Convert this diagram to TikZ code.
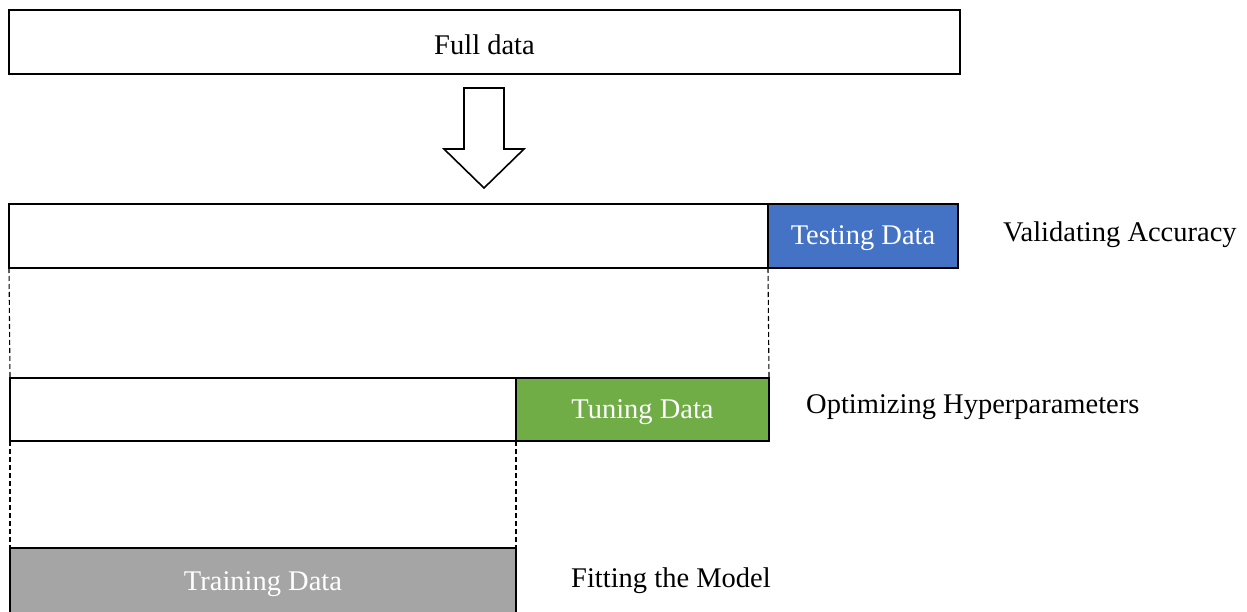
\documentclass[tikz,border=0pt]{standalone}
\usepackage{fontspec}
\setmainfont{Liberation Serif}
\definecolor{testblue}{HTML}{4472C4}
\definecolor{tunegreen}{HTML}{70AD47}
\definecolor{traingray}{HTML}{A5A5A5}
\begin{document}
\begin{tikzpicture}[x=1pt,y=-1pt,
  box/.style={draw=black, line width=1.6pt, inner sep=0pt, outer sep=0pt, rectangle},
  txt/.style={font=\fontsize{28.5}{34}\selectfont, inner sep=0pt, yshift=-2.5pt},
  side/.style={txt, anchor=west},
  guide/.style={line width=1.1pt, dash pattern=on 5pt off 3pt}
]
\clip (0,0) rectangle (1247,612);
% full data
\node[box, minimum width=951pt, minimum height=64pt] (full) at (484.5,42) {};
\node[txt] (fulltxt) at (full.center) {Full data};
% arrow
\draw[line width=1.6pt, fill=white] (464,88) -- (504,88) -- (504,149) -- (524,149) -- (484,188) -- (444,149) -- (464,149) -- cycle;
% row 2
\node[box, minimum width=759pt, minimum height=64pt] (rest2) at (388.5,236) {};
\node[box, fill=testblue, minimum width=190pt, minimum height=64pt] (test) at (863,236) {};
\node[txt, text=white] (testtxt) at (test.center) {Testing Data};
\node[side] (valid) at (1003,232) {Validating Accuracy};
% row 3
\node[box, minimum width=506pt, minimum height=63pt] (rest3) at (263,409.5) {};
\node[box, fill=tunegreen, minimum width=253pt, minimum height=63pt] (tune) at (642.5,409.5) {};
\node[txt, text=white] (tunetxt) at (tune.center) {Tuning Data};
\node[side] (optim) at (806,405) {Optimizing Hyperparameters};
% row 4
\node[box, fill=traingray, minimum width=506pt, minimum height=68pt] (train) at (263,582) {};
\node[txt, text=white] (traintxt) at (263,582) {Training Data};
\node[side] (fit) at (571,578) {Fitting the Model};
% dashed guides
\draw[guide] (rest2.south west) -- (rest3.north west);
\draw[guide] (test.south west) -- (tune.north east);
\draw[guide] (rest3.south west) -- (train.north west);
\draw[guide] (tune.south west) -- (train.north east);
\end{tikzpicture}
\end{document}
